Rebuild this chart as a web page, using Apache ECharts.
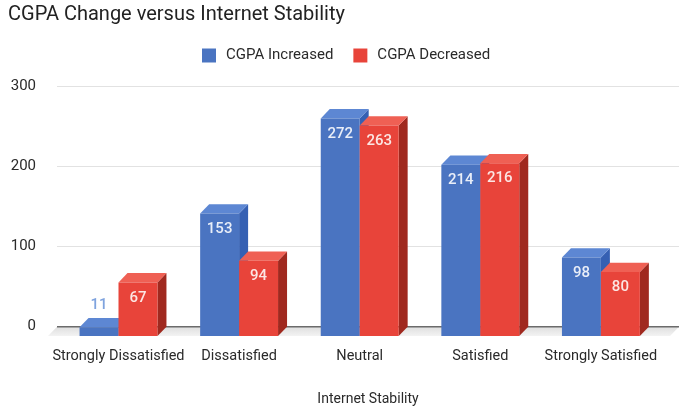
<!DOCTYPE html>
<html>
<head>
<meta charset="utf-8">
<script src="https://cdn.jsdelivr.net/npm/echarts@6/dist/echarts.min.js"></script>
<style>
  html, body { margin: 0; padding: 0; background: #fff; }
  #chart { width: 679px; height: 406px; }
</style>
</head>
<body>
<div id="chart"></div>
<script>
// Survey responses: change in CGPA by perceived internet stability
const categories = ['Strongly Dissatisfied', 'Dissatisfied', 'Neutral', 'Satisfied', 'Strongly Satisfied'];
const cgpaIncreased = [11, 153, 272, 214, 98];
const cgpaDecreased = [67, 94, 263, 216, 80];
const yMin = 0;
const yMax = 300;
const yStep = 100;

// 3D extrusion look (pixels)
const DX = 9;
const DY = 9.3;
const BAR_RATIO = 0.323;

const FONT = 'Roboto, "Liberation Sans", Arial, sans-serif';
const TEXT = '#2a2a2a';

const bluePalette = {
  front: '#4a74c1', top: '#5d87d3', side: '#3560b3',
  labelIn: '#e9eef8', labelOut: '#7fa3de'
};
const redPalette = {
  front: '#e8443a', top: '#ef6054', side: '#a0291f',
  labelIn: '#fce6e3', labelOut: '#ef7a70'
};

function renderBar(side, palette) {
  return function (params, api) {
    const ci = api.value(0);
    const v = api.value(1);
    const base = api.coord([ci, 0]);
    const topPt = api.coord([ci, v]);
    const band = api.size([1, 0])[0];
    const w = band * BAR_RATIO;
    const x0 = base[0] + (side < 0 ? -w : 0);
    const fBottom = base[1] + DY;
    const fTop = topPt[1] + DY;
    const inside = fBottom - fTop > 30;
    return {
      type: 'group',
      children: [
        { type: 'polygon',
          shape: { points: [[x0 + w, fTop], [x0 + w + DX, fTop - DY], [x0 + w + DX, fBottom - DY], [x0 + w, fBottom]] },
          style: { fill: palette.side } },
        { type: 'polygon',
          shape: { points: [[x0, fTop], [x0 + DX, fTop - DY], [x0 + w + DX, fTop - DY], [x0 + w, fTop]] },
          style: { fill: palette.top } },
        { type: 'rect',
          shape: { x: x0, y: fTop, width: w, height: fBottom - fTop },
          style: { fill: palette.front } },
        { type: 'text',
          x: x0 + w / 2,
          y: inside ? fTop + 15.5 : fTop - DY - 13,
          style: {
            text: String(v),
            fill: inside ? palette.labelIn : palette.labelOut,
            font: '500 15px ' + FONT,
            align: 'center',
            verticalAlign: 'middle'
          } }
      ]
    };
  };
}

// Floor slab under the baseline plus the dark zero line
function renderFloor(params, api) {
  const cs = params.coordSys;
  const yb = cs.y + cs.height;
  const xl = cs.x, xr = cs.x + cs.width;
  return {
    type: 'group',
    children: [
      { type: 'polygon',
        shape: { points: [[xl, yb], [xr, yb], [xr - DX, yb + DY], [xl - DX, yb + DY]] },
        style: {
          fill: new echarts.graphic.LinearGradient(0, 0, 0, 1, [
            { offset: 0, color: '#dedede' }, { offset: 1, color: '#f3f3f3' }
          ])
        } },
      { type: 'line',
        shape: { x1: xl, y1: yb, x2: xr, y2: yb },
        style: { stroke: '#6b6b6b', lineWidth: 1.5 } }
    ]
  };
}

const chart = echarts.init(document.getElementById('chart'), null, { renderer: 'canvas' });

chart.setOption({
  animation: false,
  backgroundColor: '#ffffff',
  textStyle: { fontFamily: FONT },
  title: {
    text: 'CGPA Change versus Internet Stability',
    left: 8, top: 5, padding: 0,
    textStyle: { fontSize: 20, fontWeight: 'normal', color: '#222', fontFamily: FONT }
  },
  legend: {
    data: ['CGPA Increased', 'CGPA Decreased'],
    left: 202, top: 48, padding: 0,
    icon: 'rect', itemWidth: 14, itemHeight: 14, itemGap: 20,
    textStyle: { fontSize: 15, color: TEXT, padding: [0, 0, 0, 5], fontFamily: FONT }
  },
  grid: [
    { left: 57, right: 0, top: 86.7, bottom: 79.3, outerBoundsMode: 'none' },
    { left: 58.2, right: 17.8, top: 86.7, bottom: 79.3, outerBoundsMode: 'none' }
  ],
  xAxis: [
    { gridIndex: 0, type: 'value', min: 0, max: 1,
      axisLine: { show: false }, axisTick: { show: false }, axisLabel: { show: false }, splitLine: { show: false },
      name: 'Internet Stability', nameLocation: 'middle', nameGap: 66,
      nameTextStyle: { fontSize: 14, color: TEXT, fontFamily: FONT } },
    { gridIndex: 1, type: 'category', data: categories,
      axisLine: { show: false }, axisTick: { show: false },
      axisLabel: { interval: 0, margin: 22, fontSize: 14.5, color: TEXT, fontFamily: FONT } }
  ],
  yAxis: [
    { gridIndex: 0, type: 'value', min: yMin, max: yMax, interval: yStep,
      axisLine: { show: false }, axisTick: { show: false },
      axisLabel: { margin: 21, fontSize: 15, color: TEXT, fontFamily: FONT },
      splitLine: { lineStyle: { color: '#e2e2e2', width: 1.2 } } },
    { gridIndex: 1, type: 'value', min: yMin, max: yMax, interval: yStep, show: false }
  ],
  series: [
    { type: 'custom', name: 'floor', xAxisIndex: 0, yAxisIndex: 0, silent: true, z: 1,
      renderItem: renderFloor, data: [[0, 0]] },
    { type: 'custom', name: 'CGPA Increased', xAxisIndex: 1, yAxisIndex: 1, z: 3,
      itemStyle: { color: bluePalette.front },
      renderItem: renderBar(-1, bluePalette),
      encode: { x: 0, y: 1 },
      data: cgpaIncreased.map((v, i) => [i, v]) },
    { type: 'custom', name: 'CGPA Decreased', xAxisIndex: 1, yAxisIndex: 1, z: 4,
      itemStyle: { color: redPalette.front },
      renderItem: renderBar(1, redPalette),
      encode: { x: 0, y: 1 },
      data: cgpaDecreased.map((v, i) => [i, v]) }
  ]
});
</script>
</body>
</html>
